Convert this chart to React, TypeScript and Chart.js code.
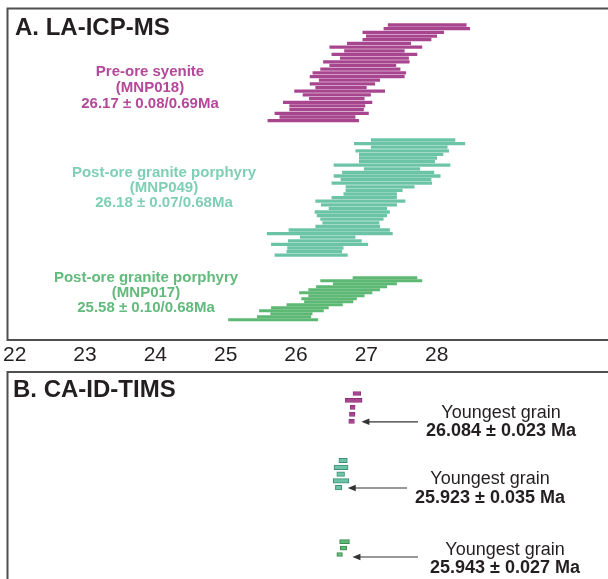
import React, { useEffect, useRef } from 'react';
import { Chart, registerables } from 'chart.js';

Chart.register(...registerables);

// ---- data (ages in Ma, read on the drawn age axis) ----
const tickValues = [22, 23, 24, 25, 26, 27, 28];

const preOreLA: [number, number][] = [
  [27.31, 28.42], [27.25, 28.47], [26.95, 28.10], [27.00, 28.00], [26.95, 27.92],
  [26.73, 27.63], [26.48, 27.79], [26.69, 27.54], [26.51, 27.72], [26.63, 27.60],
  [26.39, 27.61], [26.48, 27.42], [26.35, 27.48], [26.24, 27.56], [26.20, 27.54],
  [26.33, 27.19], [26.20, 27.12], [26.28, 27.00], [25.98, 27.26], [26.10, 27.06],
  [26.19, 26.97], [25.82, 27.08], [25.91, 26.98], [25.91, 26.96], [25.70, 27.03],
  [25.77, 26.84], [25.60, 26.89],
];

const mnp049LA: [number, number][] = [
  [27.07, 28.26], [26.83, 28.40], [27.07, 28.15], [26.85, 28.17], [26.90, 28.09],
  [26.90, 28.00], [26.90, 27.97], [26.54, 28.19], [26.97, 27.76], [26.66, 27.96],
  [26.54, 28.05], [26.64, 27.92], [26.51, 27.93], [26.71, 27.68], [26.71, 27.51],
  [26.68, 27.43], [26.51, 27.43], [26.28, 27.55], [26.36, 27.43], [26.47, 27.29],
  [26.27, 27.33], [26.30, 27.29], [26.35, 27.24], [26.38, 27.18], [26.28, 27.19],
  [25.90, 27.33], [25.59, 27.37], [26.06, 26.84], [25.89, 26.93], [25.65, 27.02],
  [25.88, 26.67], [25.87, 26.65], [25.70, 26.73],
];

const mnp017LA: [number, number][] = [
  [26.81, 27.72], [26.35, 27.79], [26.53, 27.43], [26.29, 27.29], [26.18, 27.19],
  [26.05, 27.08], [26.18, 26.97], [26.08, 26.86], [26.12, 26.81], [25.87, 26.66],
  [25.65, 26.46], [25.48, 26.39], [25.64, 26.23], [25.45, 26.21], [25.04, 26.31],
];

const preOreTIMS: [number, number][] = [
  [26.81, 26.92], [26.70, 26.94], [26.77, 26.84], [26.76, 26.84], [26.75, 26.83],
];
const mnp049TIMS: [number, number][] = [
  [26.61, 26.73], [26.54, 26.74], [26.58, 26.69], [26.53, 26.75], [26.56, 26.65],
];
const mnp017TIMS: [number, number][] = [
  [26.62, 26.76], [26.63, 26.72], [26.58, 26.66],
];

const groupLabels = [
  ['Pre-ore syenite', '(MNP018)', '26.17 ± 0.08/0.69Ma'],
  ['Post-ore granite porphyry', '(MNP049)', '26.18 ± 0.07/0.68Ma'],
  ['Post-ore granite porphyry', '(MNP017)', '25.58 ± 0.10/0.68Ma'],
];
const youngestLabels = ['26.084 ± 0.023 Ma', '25.923 ± 0.035 Ma', '25.943 ± 0.027 Ma'];

// ---- layout / style ----
const W = 608;
const H = 579;
const FONT = "'Liberation Sans', Arial, Helvetica, sans-serif";
const MAG = '#a8458f';
const TEAL = '#6cc4a6';
const GREEN = '#5db873';

const groups = [
  { data: preOreLA, top: 25, pitch: 3.68, thick: 2.6, fill: MAG, border: MAG, bw: 0 },
  { data: mnp049LA, top: 140, pitch: 3.6, thick: 2.6, fill: TEAL, border: TEAL, bw: 0 },
  { data: mnp017LA, top: 277.7, pitch: 3.0, thick: 2.2, fill: GREEN, border: GREEN, bw: 0 },
  { data: preOreTIMS, top: 393.5, pitch: 6.95, thick: 4, fill: MAG, border: '#8a2f74', bw: 0.8 },
  { data: mnp049TIMS, top: 460.5, pitch: 6.8, thick: 4.5, fill: TEAL, border: '#3f8f78', bw: 1 },
  { data: mnp017TIMS, top: 541.7, pitch: 6.4, thick: 4, fill: GREEN, border: '#3c8a55', bw: 1 },
];

const labelLayout = [
  { cx: 150, y: 76, step: 16, color: '#b4489b' },
  { cx: 164, y: 177, step: 15, color: '#7fcfb5' },
  { cx: 146, y: 282, step: 15, color: '#62ba7c' },
];

const annLayout = [
  { group: 3, cx: 501, y1: 418, y2: 436, tailX: 418, gap: 7, dy: 0.5 },
  { group: 4, cx: 490, y1: 484, y2: 503, tailX: 407, gap: 6, dy: 0.3 },
  { group: 5, cx: 505, y1: 555, y2: 573, tailX: 418, gap: 10, dy: 2.5 },
];

const decorPlugin = {
  id: 'decor',
  beforeDraw(chart: any) {
    const ctx = chart.ctx;
    ctx.save();
    ctx.strokeStyle = '#4f4f4f';
    ctx.lineWidth = 2;
    ctx.beginPath();
    ctx.moveTo(W + 5, 8.5);
    ctx.lineTo(7.5, 8.5);
    ctx.lineTo(7.5, 340);
    ctx.lineTo(W + 5, 340);
    ctx.stroke();
    ctx.beginPath();
    ctx.moveTo(W + 5, 372);
    ctx.lineTo(7.5, 372);
    ctx.lineTo(7.5, H + 5);
    ctx.stroke();
    ctx.restore();
  },
  afterDraw(chart: any) {
    const ctx = chart.ctx;
    const xs = chart.scales.x;
    const ys = chart.scales.y;
    ctx.save();
    ctx.fillStyle = '#231f20';
    ctx.textBaseline = 'alphabetic';
    ctx.textAlign = 'left';
    ctx.font = `bold 24px ${FONT}`;
    ctx.fillText('A. LA-ICP-MS', 15, 35);
    ctx.fillText('B. CA-ID-TIMS', 13, 397);

    ctx.textAlign = 'center';
    ctx.font = `bold 15px ${FONT}`;
    labelLayout.forEach((l, gi) => {
      ctx.fillStyle = l.color;
      groupLabels[gi].forEach((t, li) => ctx.fillText(t, l.cx, l.y + li * l.step));
    });

    annLayout.forEach((a, i) => {
      const g = groups[a.group];
      const last = g.data[g.data.length - 1];
      const y = ys.getPixelForValue(g.top + (g.data.length - 1) * g.pitch) + a.dy;
      const tip = xs.getPixelForValue(last[1]) + a.gap;
      ctx.strokeStyle = '#333';
      ctx.fillStyle = '#333';
      ctx.lineWidth = 1.2;
      ctx.beginPath();
      ctx.moveTo(tip + 6, y);
      ctx.lineTo(a.tailX, y);
      ctx.stroke();
      ctx.beginPath();
      ctx.moveTo(tip, y);
      ctx.lineTo(tip + 8, y - 3.2);
      ctx.lineTo(tip + 8, y + 3.2);
      ctx.closePath();
      ctx.fill();

      ctx.fillStyle = '#231f20';
      ctx.font = `18px ${FONT}`;
      ctx.fillText('Youngest grain', a.cx, a.y1);
      ctx.font = `bold 18px ${FONT}`;
      ctx.fillText(youngestLabels[i], a.cx, a.y2);
    });
    ctx.restore();
  },
};

export default function App() {
  const ref = useRef<HTMLCanvasElement | null>(null);

  useEffect(() => {
    if (!ref.current) return;
    const datasets = groups.map((g) => ({
      data: g.data.map((r, i) => ({ x: [r[0], r[1]], y: g.top + i * g.pitch })),
      backgroundColor: g.fill,
      borderColor: g.border,
      borderWidth: g.bw,
      borderSkipped: false,
      barThickness: g.thick,
      grouped: false,
    }));
    const chart = new Chart(ref.current, {
      type: 'bar',
      data: { datasets } as any,
      options: {
        indexAxis: 'y',
        responsive: false,
        animation: false,
        events: [],
        layout: { padding: 0 },
        plugins: { legend: { display: false }, tooltip: { enabled: false } },
        scales: {
          x: {
            type: 'linear',
            min: 21.8,
            max: 30.436,
            offset: false,
            position: { y: 341.5 } as any,
            grid: { display: false, drawTicks: false },
            border: { display: false },
            ticks: {
              padding: 3,
              color: '#231f20',
              font: { family: FONT, size: 21, lineHeight: 1 },
              autoSkip: false,
              maxRotation: 0,
            },
            afterBuildTicks: (axis: any) => {
              axis.ticks = tickValues.map((v) => ({ value: v }));
            },
          },
          y: { type: 'linear', min: 0, max: H, reverse: true, offset: false, display: false },
        },
      } as any,
      plugins: [decorPlugin],
    });
    return () => chart.destroy();
  }, []);

  return (
    <div style={{ position: 'absolute', left: 0, top: 0, width: W, height: H, background: '#fff' }}>
      <canvas ref={ref} width={W} height={H} style={{ display: 'block' }} />
    </div>
  );
}
